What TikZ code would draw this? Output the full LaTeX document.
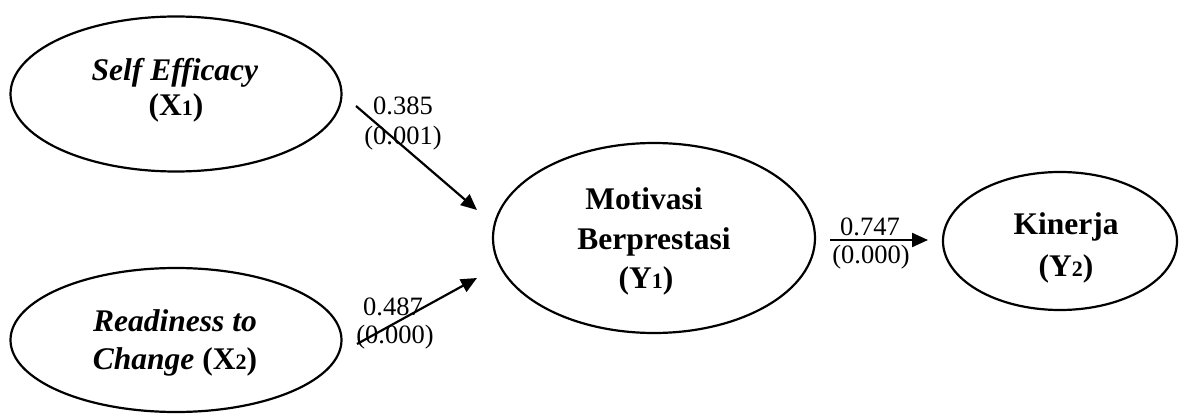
\documentclass[tikz,border=0pt]{standalone}
\usepackage{fontspec}
\setmainfont{Liberation Serif}
\usetikzlibrary{shapes.geometric,arrows.meta}
\newcommand{\subnum}[1]{{\fontsize{22}{22}\selectfont #1}}
\tikzset{
  latent/.style={ellipse, draw, line width=2.2pt, inner sep=0pt},
  maintxt/.style={anchor=base, inner sep=0pt, font=\fontsize{31.5}{31.5}\selectfont\bfseries},
  coef/.style={anchor=base, inner sep=0pt, font=\fontsize{26.5}{26.5}\selectfont},
  path arrow/.style={line width=2.2pt, -{Triangle[length=16pt,width=14pt]}}
}
\begin{document}
\begin{tikzpicture}[x=1pt,y=-1pt]
\useasboundingbox (0,0) rectangle (1179,417);
% latent variables
\node[latent, minimum width=331pt, minimum height=155pt] (x1) at (176,94) {};
\node[latent, minimum width=331pt, minimum height=144pt] (x2) at (176,340) {};
\node[latent, minimum width=322pt, minimum height=190pt] (y1) at (654,238) {};
\node[latent, minimum width=234pt, minimum height=138pt] (y2) at (1060,241) {};
% texts
\node[maintxt] (x1a) at (175,81) {\textit{Self Efficacy}};
\node[maintxt] (x1b) at (176,116) {(X\subnum{1})};
\node[maintxt] (x2a) at (175,331) {\textit{Readiness to}};
\node[maintxt] (x2b) at (175,369) {\textit{Change} (X\subnum{2})};
\node[maintxt] (y1a) at (644,210) {Motivasi};
\node[maintxt] (y1b) at (654,249) {Berprestasi};
\node[maintxt] (y1c) at (646,288) {(Y\subnum{1})};
\node[maintxt] (y2a) at (1066,234) {Kinerja};
\node[maintxt] (y2b) at (1066,276) {(Y\subnum{2})};
% connectors
\coordinate (p1s) at (356,106);
\coordinate (p1e) at (477,210);
\coordinate (p2s) at (357,344);
\coordinate (p2e) at (477,278);
\coordinate (p3s) at (830,240);
\coordinate (p3e) at (928,240);
\draw[path arrow] (p1s) -- (p1e);
\draw[path arrow] (p2s) -- (p2e);
\draw[path arrow] (p3s) -- (p3e);
% coefficients
\node[coef] (c1a) at (403,115) {0.385};
\node[coef] (c1b) at (403,145) {(0.001)};
\node[coef] (c2a) at (393,315) {0.487};
\node[coef] (c2b) at (395,343) {(0.000)};
\node[coef] (c3a) at (870,235) {0.747};
\node[coef] (c3b) at (871,263) {(0.000)};
\end{tikzpicture}
\end{document}
